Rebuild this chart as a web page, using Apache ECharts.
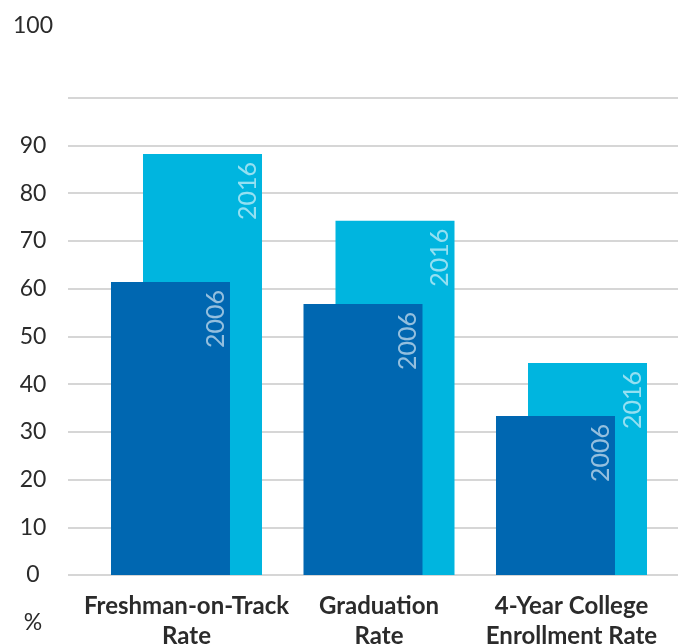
<!DOCTYPE html>
<html>
<head>
<meta charset="utf-8">
<script src="https://cdn.jsdelivr.net/npm/echarts@6/dist/echarts.min.js"></script>
<style>
html,body{margin:0;padding:0;background:#fff;}
#chart{width:678px;height:644px;}
</style>
</head>
<body>
<div id="chart"></div>
<script>
// ---- data ----
const categories = ['Freshman-on-Track\nRate', 'Graduation\nRate', '4-Year College\nEnrollment Rate'];
const seriesNames = ['2006', '2016'];
const values2006 = [61.4, 56.8, 33.3];
const values2016 = [88.2, 74.2, 44.4];
const yTicks = [0, 10, 20, 30, 40, 50, 60, 70, 80, 90, 100];
const yMin = 0, yMax = 100, yInterval = 10;
const topLabel = '100';
const unitLabel = '%';

const chart = echarts.init(document.getElementById('chart'), null, {renderer: 'canvas'});
const FONT = 'Lato';
const barLabel = (name) => ({
  show: true,
  formatter: name,
  position: ['100%', 7],
  rotate: 90,
  align: 'right',
  verticalAlign: 'bottom',
  offset: [-1, -2],
  color: 'rgba(255,255,255,0.58)',
  fontFamily: FONT,
  fontSize: 25,
  lineHeight: 25
});

const option = {
  animation: false,
  grid: [
    {left: 68, right: 0, top: 97.7, bottom: 69, containLabel: false, outerBoundsMode: 'none'},
    {left: 90.25, right: 10.25, top: 97.7, bottom: 69, containLabel: false, outerBoundsMode: 'none'}
  ],
  xAxis: [
    {gridIndex: 0, type: 'value', min: 0, max: 1, show: false},
    {
      gridIndex: 1, type: 'category', data: categories,
      axisLine: {show: false}, axisTick: {show: false},
      axisLabel: {
        interval: 0, margin: 16,
        fontFamily: FONT, fontWeight: 'bold', fontSize: 24, lineHeight: 30,
        color: '#2b2b2b'
      }
    }
  ],
  yAxis: [
    {
      gridIndex: 0, type: 'value', min: yMin, max: yMax, interval: yInterval,
      axisLine: {show: false}, axisTick: {show: false},
      splitLine: {show: true, lineStyle: {color: '#c8c8c8', width: 1.6}},
      axisLabel: {
        margin: 35, align: 'center',
        fontFamily: FONT, fontSize: 23, color: '#2b2b2b',
        formatter: (v) => (yTicks.indexOf(v) >= 0 && v !== yMax ? String(v) : '')
      }
    },
    {gridIndex: 1, type: 'value', min: yMin, max: yMax, interval: yInterval, show: false, splitLine: {show: false}}
  ],
  graphic: [
    {type: 'text', style: {text: topLabel, font: '23px Lato', fill: '#2b2b2b', textAlign: 'center', textVerticalAlign: 'middle'}, x: 33, y: 26},
    {type: 'text', style: {text: unitLabel, font: '23px Lato', fill: '#2b2b2b', textAlign: 'center', textVerticalAlign: 'middle'}, x: 33, y: 623}
  ],
  series: [
    {
      name: seriesNames[0], type: 'bar', xAxisIndex: 1, yAxisIndex: 1,
      data: values2006, barWidth: 119, barGap: '-73.1%', z: 3,
      itemStyle: {color: '#0067b1'},
      label: barLabel(seriesNames[0])
    },
    {
      name: seriesNames[1], type: 'bar', xAxisIndex: 1, yAxisIndex: 1,
      data: values2016, barWidth: 119, barGap: '-73.1%', z: 2,
      itemStyle: {color: '#00b5df'},
      label: barLabel(seriesNames[1])
    }
  ]
};
chart.setOption(option);
</script>
</body>
</html>
